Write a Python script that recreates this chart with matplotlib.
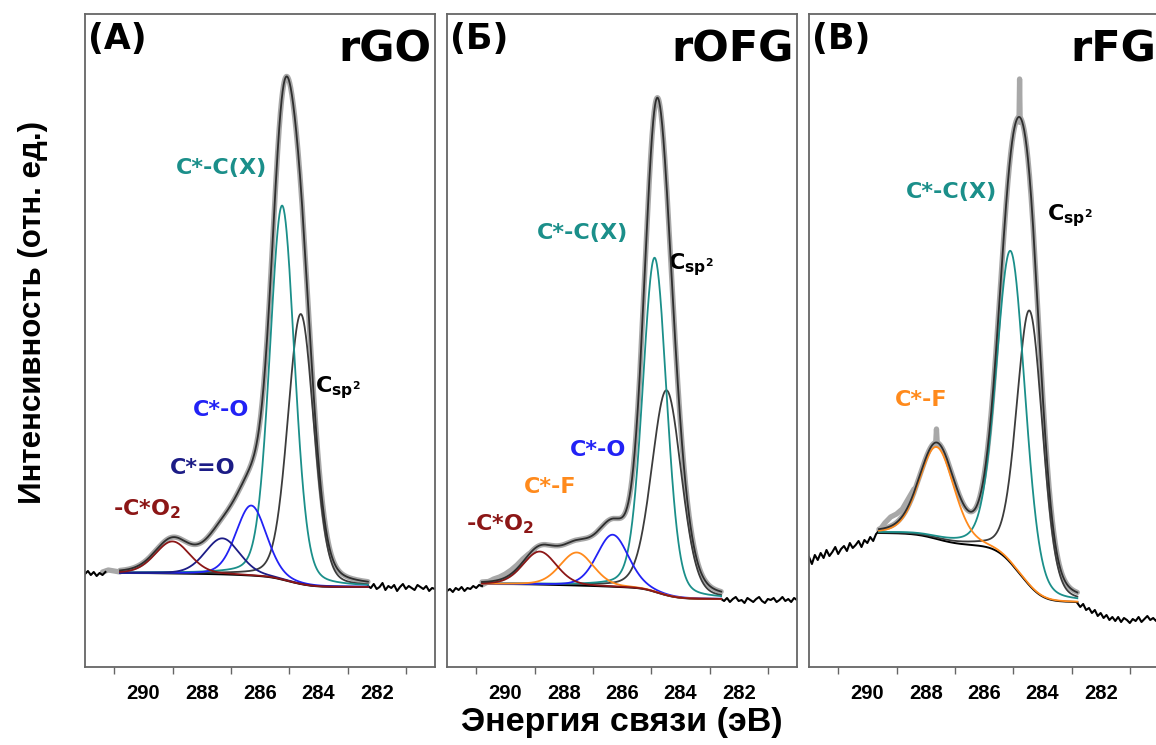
import numpy as np
import matplotlib.pyplot as plt

plt.rcParams['mathtext.fontset'] = 'dejavusans'
plt.rcParams['mathtext.default'] = 'bf'

GRAY_DATA = '#a8a8a8'
ENV = '#2e2e2e'
CSP2 = '#3c3c3c'
TEAL = '#1b8f8a'
BLUE = '#2222f5'
NAVY = '#1c1c86'
DRED = '#8c1616'
ORANGE = '#ff8a1c'

# ---- rGO ----
a_center = [284.60, 285.24, 286.30, 287.29, 289.00]
a_height = [270, 374, 70, 36, 32]
a_fwhm = [1.05, 1.00, 1.23, 1.40, 1.40]
a_colors = [CSP2, TEAL, BLUE, NAVY, DRED]
a_window = (282.3, 290.8)
a_bg = (80, 94)            # low-energy / high-energy level
a_left_e = np.linspace(292.0, 291.3, 8)
a_left_i = [93, 96, 92, 95, 91, 94, 92, 95]
a_right_e = np.linspace(282.3, 280.0, 24)
a_right_i = [81, 79, 83, 78, 80, 84, 77, 81, 79, 82, 76, 80,
             83, 78, 81, 79, 77, 82, 80, 78, 81, 76, 79, 78]
a_gray_e = [[291.4, 291.2, 291.0, 290.8]]
a_gray_i = [[95, 97, 96, 95]]

# ---- rOFG ----
b_center = [284.47, 284.88, 286.32, 287.55, 288.82]
b_height = [205, 334, 52, 33, 33]
b_fwhm = [1.20, 0.97, 1.27, 1.35, 1.35]
b_colors = [CSP2, TEAL, BLUE, ORANGE, DRED]
b_window = (282.6, 290.8)
b_bg = (68, 83)
b_left_e = np.linspace(292.0, 290.8, 13)
b_left_i = [76, 78, 75, 79, 77, 80, 76, 79, 78, 81, 79, 82, 81]
b_right_e = np.linspace(282.6, 280.0, 27)
b_right_i = [68, 66, 69, 65, 68, 70, 66, 67, 64, 69, 67, 65, 68, 70,
             66, 64, 68, 67, 69, 65, 67, 70, 66, 68, 65, 69, 67]
b_gray_e = [[290.8, 290.6, 290.4, 290.2, 290.0, 289.8, 289.6, 289.4, 289.2, 289.0]]
b_gray_i = [[82, 85, 88, 90, 93, 97, 102, 108, 113, 116]]

# ---- rFG ----
c_center = [284.43, 285.08, 287.62]
c_height = [275, 312, 92]
c_fwhm = [1.05, 1.15, 1.40]
c_colors = [CSP2, TEAL, ORANGE]
c_window = (282.8, 289.6)
c_bg = (65, 134)
c_left_e = np.linspace(292.0, 289.6, 25)
c_left_i = [110, 103, 112, 107, 114, 109, 117, 111, 115, 120, 113, 118, 121,
            116, 124, 119, 122, 126, 120, 127, 124, 130, 126, 133, 136]
c_right_e = np.linspace(282.8, 280.0, 29)
c_right_i = [64, 60, 63, 57, 59, 54, 57, 51, 54, 49, 52, 47, 50, 46, 50,
             45, 49, 47, 44, 48, 46, 50, 45, 48, 51, 47, 49, 46, 50]
c_gray_e = [[289.6, 289.4, 289.2, 289.0, 288.8, 288.6, 288.4],
            [287.66, 287.63, 287.60],
            [284.80, 284.78, 284.76]]
c_gray_i = [[136, 144, 150, 153, 158, 168, 178],
            [222, 238, 222],
            [545, 588, 545]]


def pv(e, c, h, w, eta=0.2):
    x = (e - c) / w
    return h * (eta / (1 + 4 * x ** 2) + (1 - eta) * np.exp(-4 * np.log(2) * x ** 2))


def panel(ax, centers, heights, fwhms, colors, window, bg_lv,
          le, li, re, ri, ge, gi):
    e = np.linspace(window[0], window[1], 800)
    comps = [pv(e, c, h, w) for c, h, w in zip(centers, heights, fwhms)]
    total = np.sum(comps, axis=0)
    # Shirley-type background from component area
    cum = np.concatenate([[0], np.cumsum((total[1:] + total[:-1]) / 2 * np.diff(e))])
    bg = bg_lv[0] + (bg_lv[1] - bg_lv[0]) * cum / cum[-1]

    ax.plot(e, bg + total, color=GRAY_DATA, lw=3.8, zorder=1, solid_capstyle='round')
    for xe, xi in zip(ge, gi):
        ax.plot(xe, xi, color=GRAY_DATA, lw=3.8, zorder=1, solid_capstyle='round')
    ax.plot(le, li, color='black', lw=1.5, zorder=2)
    ax.plot(re, ri, color='black', lw=1.5, zorder=2)
    ax.plot(e, bg, color='black', lw=1.4, zorder=3)
    for comp, col in zip(comps, colors):
        ax.plot(e, bg + comp, color=col, lw=1.3, zorder=4)
    ax.plot(e, bg + total, color=ENV, lw=1.3, zorder=5)

    ax.set_xlim(292, 280)
    ax.set_ylim(0, 653)
    ax.set_yticks([])
    ax.set_xticks([290, 288, 286, 284, 282])
    ax.set_xticks([291, 289, 287, 285, 283, 281], minor=True)
    ax.tick_params(axis='x', which='major', length=0, pad=12)
    ax.tick_params(axis='x', which='minor', length=5, width=1, color='#666666', direction='out')
    for lab in ax.get_xticklabels():
        lab.set_fontfamily('Liberation Sans')
        lab.set_fontweight('bold')
        lab.set_fontsize(14.5)
    for s in ax.spines.values():
        s.set_color('#666666')
        s.set_linewidth(1.3)


fig = plt.figure(figsize=(11.56, 7.45), dpi=100)
W, H = 1156, 745
lefts = [85, 447, 809]
axes = [fig.add_axes([l / W, 78 / H, 350 / W, 653 / H]) for l in lefts]

panel(axes[0], a_center, a_height, a_fwhm, a_colors, a_window, a_bg,
      a_left_e, a_left_i, a_right_e, a_right_i, a_gray_e, a_gray_i)
panel(axes[1], b_center, b_height, b_fwhm, b_colors, b_window, b_bg,
      b_left_e, b_left_i, b_right_e, b_right_i, b_gray_e, b_gray_i)
panel(axes[2], c_center, c_height, c_fwhm, c_colors, c_window, c_bg,
      c_left_e, c_left_i, c_right_e, c_right_i, c_gray_e, c_gray_i)

tag = ['(A)', '(Б)', '(В)']
names = ['rGO', 'rOFG', 'rFG']
for ax, t, n in zip(axes, tag, names):
    ax.text(0.008, 0.988, t, transform=ax.transAxes, ha='left', va='top',
            fontsize=25, fontweight='bold', family='DejaVu Sans')
    ax.text(0.991, 0.978, n, transform=ax.transAxes, ha='right', va='top',
            fontsize=31, fontweight='bold', family='DejaVu Sans')

lab = dict(fontsize=16, fontweight='bold', family='DejaVu Sans', ha='center', va='center')
csp2 = r'C$_{sp^{2}}$'
co2 = r'-C*O$_{2}$'

ax = axes[0]
ax.text(287.31, 499, 'C*-C(X)', color=TEAL, **lab)
ax.text(284.12, 279, csp2, color='black', fontsize=16, fontweight='bold', ha='left', va='center')
ax.text(287.34, 257, 'C*-O', color=BLUE, **lab)
ax.text(287.96, 199, 'C*=O', color=NAVY, **lab)
ax.text(289.88, 158, co2, color=DRED, **lab)

ax = axes[1]
ax.text(287.34, 434, 'C*-C(X)', color=TEAL, **lab)
ax.text(284.43, 402, csp2, color='black', fontsize=16, fontweight='bold', ha='left', va='center')
ax.text(286.83, 217, 'C*-O', color=BLUE, **lab)
ax.text(288.47, 180, 'C*-F', color=ORANGE, **lab)
ax.text(290.18, 143, co2, color=DRED, **lab)

ax = axes[2]
ax.text(287.10, 475, 'C*-C(X)', color=TEAL, **lab)
ax.text(283.85, 451, csp2, color='black', fontsize=16, fontweight='bold', ha='left', va='center')
ax.text(288.16, 267, 'C*-F', color=ORANGE, **lab)

fig.text(622 / W, 1 - 722 / H, 'Энергия связи (эВ)', ha='center', va='center',
         fontsize=24.5, fontweight='bold', family='Liberation Sans')
fig.text(33 / W, 1 - 313 / H, 'Интенсивность (отн. ед.)', ha='center', va='center',
         rotation=90, fontsize=22.5, fontweight='bold', family='Liberation Sans')

fig.savefig('out.png', dpi=100)
